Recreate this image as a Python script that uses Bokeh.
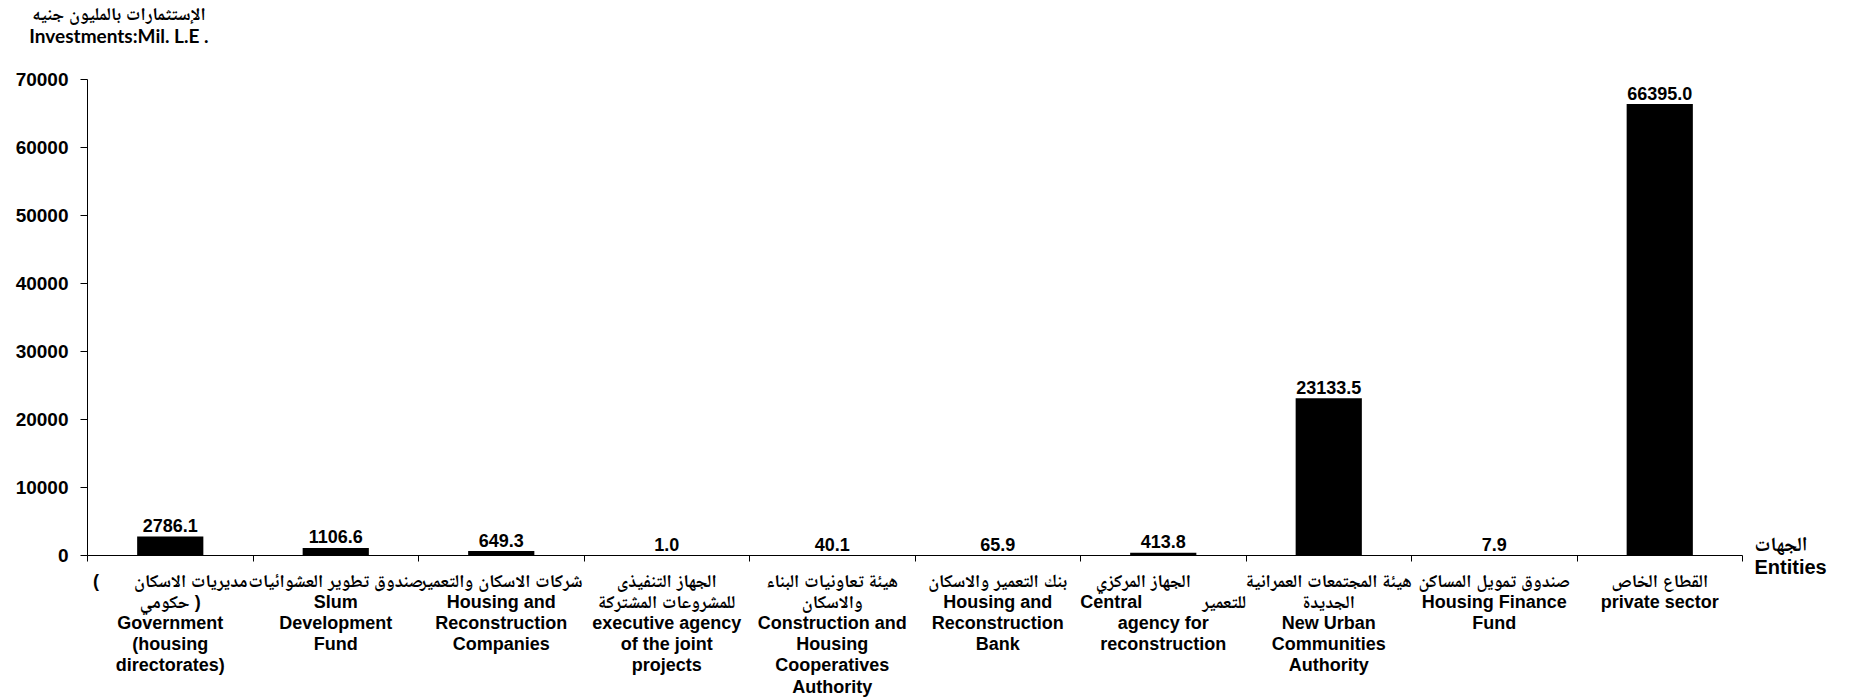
from bokeh.plotting import figure
from bokeh.models import Range1d, LinearAxis, FixedTicker, PrintfTickFormatter
from bokeh.embed import file_html
from bokeh.resources import INLINE
from bokeh.core.properties import value

NB = "\u00a0"
LRM = "\u200e"

categories = [
    LRM + "(" + NB * 7 + "مديريات الاسكان\n" + LRM + "حكومي )" + LRM + "\nGovernment\n(housing\ndirectorates)",
    "صندوق تطوير العشوائيات\nSlum\nDevelopment\nFund",
    "شركات الاسكان والتعمير\nHousing and\nReconstruction\nCompanies",
    "الجهاز التنفيذى\nللمشروعات المشتركة\nexecutive agency\nof the joint\nprojects",
    "هيئة تعاونيات البناء\nوالاسكان\nConstruction and\nHousing\nCooperatives\nAuthority",
    "بنك التعمير والاسكان\nHousing and\nReconstruction\nBank",
    "الجهاز المركزي" + NB * 8 + "\nCentral" + NB * 12 + "للتعمير\nagency for\nreconstruction",
    "هيئة المجتمعات العمرانية\nالجديدة\nNew Urban\nCommunities\nAuthority",
    "صندوق تمويل المساكن\nHousing Finance\nFund",
    "القطاع الخاص\nprivate sector",
]
values = [2786.1, 1106.6, 649.3, 1.0, 40.1, 65.9, 413.8, 23133.5, 7.9, 66395.0]
value_labels = [f"{v:.1f}" for v in values]
y_ticks = [0, 10000, 20000, 30000, 40000, 50000, 60000, 70000]
y_title_ar = "الإستثمارات بالمليون جنيه"
y_title_en = "Investments:Mil. L.E ."
x_title = "الجهات\nEntities"

n = len(categories)
centers = [i + 0.5 for i in range(n)]
bounds = list(range(n + 1))

FONT = "Liberation Sans"
LABEL_FONT = "Liberation Sans, Noto Naskh Arabic, Noto Sans Arabic, DejaVu Sans"

W, H = 1846, 699
p = figure(width=W, height=H, x_range=Range1d(0, n), y_range=Range1d(0, 70000),
           output_backend="svg", toolbar_location=None, x_axis_location=None,
           min_border_left=87, min_border_right=104, min_border_top=79, min_border_bottom=143)
p.outline_line_color = None
p.background_fill_color = "white"
p.border_fill_color = "white"

# y axis
ya = p.yaxis[0]
ya.ticker = FixedTicker(ticks=y_ticks)
ya.formatter = PrintfTickFormatter(format="%d")
ya.minor_tick_line_color = None
ya.major_tick_in = 0
ya.major_tick_out = 7
ya.major_label_standoff = 12
ya.major_label_text_font = FONT
ya.major_label_text_font_style = "bold"
ya.major_label_text_font_size = "19px"
ya.major_label_text_color = "black"
ya.axis_line_color = "black"
ya.major_tick_line_color = "black"

# x axis: category labels at centers, boundary ticks as minor ticks
xa = LinearAxis(ticker=FixedTicker(ticks=centers, minor_ticks=bounds),
                major_label_overrides={c: lab for c, lab in zip(centers, categories)})
xa.axis_line_color = "black"
xa.major_tick_line_color = None
xa.major_tick_in = 0
xa.major_tick_out = 0
xa.minor_tick_line_color = "black"
xa.minor_tick_in = 0
xa.minor_tick_out = 6
xa.major_label_standoff = 9
xa.major_label_text_font = LABEL_FONT
xa.major_label_text_font_style = "bold"
xa.major_label_text_font_size = "18px"
xa.major_label_text_line_height = 1.06
xa.major_label_text_color = "black"
p.add_layout(xa, "below")

# y title as two label-only axes above the frame
title_x = 0.19
for txt, fnt, fs, so in [(y_title_en, "Lato", "19px", 33), (y_title_ar, LABEL_FONT, "18px", -3)]:
    ta = LinearAxis(ticker=FixedTicker(ticks=[title_x], minor_ticks=[]),
                    major_label_overrides={title_x: txt})
    ta.axis_line_color = None
    ta.major_tick_line_color = None
    ta.minor_tick_line_color = None
    ta.major_tick_in = 0
    ta.major_tick_out = 0
    ta.major_label_standoff = so
    ta.major_label_text_font = fnt
    ta.major_label_text_font_style = "bold"
    ta.major_label_text_font_size = fs
    ta.major_label_text_color = "black"
    p.add_layout(ta, "above")

# x title as a label-only axis on the right, at the level of y = 0
ra = LinearAxis(ticker=FixedTicker(ticks=[0], minor_ticks=[]),
                major_label_overrides={0: x_title})
ra.axis_line_color = None
ra.major_tick_line_color = None
ra.minor_tick_line_color = None
ra.major_tick_in = 0
ra.major_tick_out = 0
ra.major_label_standoff = 12
ra.major_label_text_font = LABEL_FONT
ra.major_label_text_font_style = "bold"
ra.major_label_text_font_size = "20px"
ra.major_label_text_line_height = 1.07
ra.major_label_text_color = "black"
p.add_layout(ra, "right")

p.grid.grid_line_color = None

p.vbar(x=centers, top=values, width=0.4, fill_color="black", line_color=None)
p.text(x=centers, y=values, text=value_labels, text_align="center", text_baseline="alphabetic",
       y_offset=-11, text_font=value(FONT), text_font_style="bold", text_font_size="18px",
       text_color="black")

open("out.html", "w").write(file_html(p, INLINE))
